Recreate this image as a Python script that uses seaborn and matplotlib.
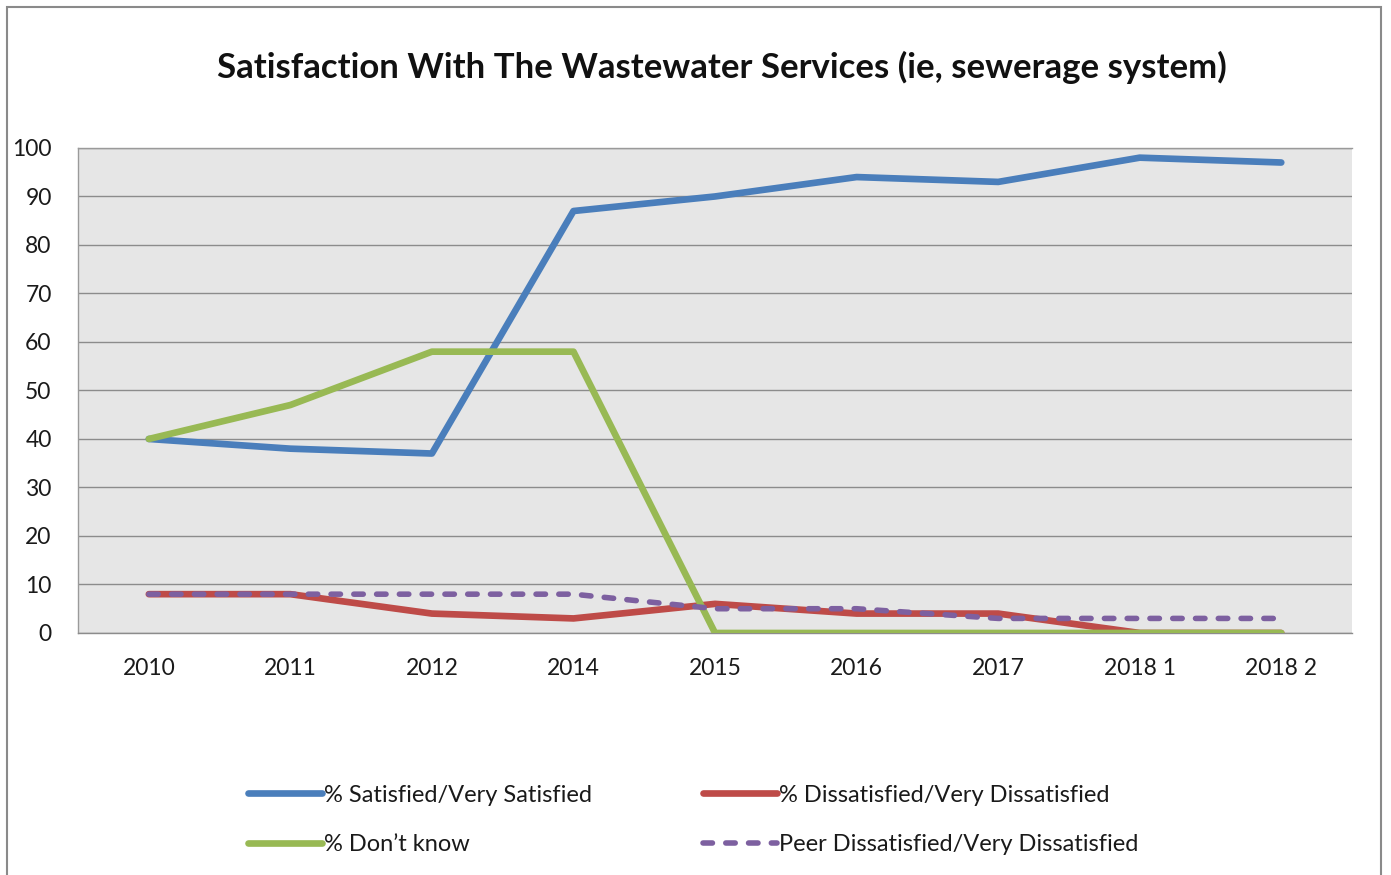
import matplotlib
matplotlib.use("Agg")
import matplotlib.pyplot as plt
from matplotlib.patches import Rectangle
import seaborn as sns
import pandas as pd

# Survey waves and series values (%)
periods = ["2010", "2011", "2012", "2014", "2015", "2016", "2017", "2018 1", "2018 2"]
satisfied = [40, 38, 37, 87, 90, 94, 93, 98, 97]
dissatisfied = [8, 8, 4, 3, 6, 4, 4, 0, 0]
dont_know = [40, 47, 58, 58, 0, 0, 0, 0, 0]
peer_dissatisfied = [8, 8, 8, 8, 5, 5, 3, 3, 3]

series_names = [
    "% Satisfied/Very Satisfied",
    "% Dissatisfied/Very Dissatisfied",
    "% Don\u2019t know",
    "Peer Dissatisfied/Very Dissatisfied",
]
colors = ["#4A7EBB", "#BE4B48", "#98B954", "#7D60A0"]

sns.set_theme(style="white")
plt.rcParams["font.family"] = ["Lato", "DejaVu Sans"]

fig = plt.figure(figsize=(13.91, 8.75), dpi=100)
ax = fig.add_axes([0.0561, 0.2766, 0.9159, 0.5543])

pos = list(range(len(periods)))
values = [satisfied, dissatisfied, dont_know, peer_dissatisfied]
handles = {}
for i, (name, vals, col) in enumerate(zip(series_names, values, colors)):
    df = pd.DataFrame({"x": pos, "y": vals})
    if i == 3:
        sns.lineplot(data=df, x="x", y="y", ax=ax, color=col, linewidth=4.0,
                     zorder=3 + i)
        line = ax.lines[-1]
        line.set_dashes((1.7, 2.4))
        line.set_dash_capstyle("round")
    else:
        sns.lineplot(data=df, x="x", y="y", ax=ax, color=col, linewidth=4.8,
                     zorder=3 + i)
        line = ax.lines[-1]
        line.set_solid_capstyle("round")
        line.set_solid_joinstyle("round")
    handles[name] = line

ax.set_facecolor("#E6E6E6")
ax.set_xlim(-0.5, len(periods) - 0.5)
ax.set_ylim(0, 100)
ax.set_yticks(range(0, 101, 10))
ax.set_xticks(pos)
ax.set_xticklabels(periods)
ax.set_xlabel("")
ax.set_ylabel("")
ax.yaxis.grid(True, color="#8C8C8C", linewidth=1.0)
ax.set_axisbelow(True)
ax.tick_params(axis="y", length=0, pad=19, labelsize=16.5, labelcolor="#1A1A1A")
ax.tick_params(axis="x", length=0, pad=18, labelsize=16.5, labelcolor="#1A1A1A")
for side in ["left", "right", "top", "bottom"]:
    ax.spines[side].set_color("#9A9A9A")
    ax.spines[side].set_linewidth(1.0)
ax.spines["right"].set_visible(False)
ax.spines["bottom"].set_color("#8C8C8C")

fig.suptitle("Satisfaction With The Wastewater Services (ie, sewerage system)",
             x=0.519, y=0.942, fontsize=25, fontweight="bold", color="#111111")

# Outer chart border
fig.patches.append(Rectangle((0.005, -0.01), 0.988, 1.002, transform=fig.transFigure,
                             fill=False, edgecolor="#8A8A8A", linewidth=1.5))

order = [series_names[0], series_names[2], series_names[1], series_names[3]]
leg = fig.legend([handles[n] for n in order], order, ncol=2,
                 loc="center", bbox_to_anchor=(0.4986, 0.063),
                 frameon=False, fontsize=17, handlelength=3.1,
                 handletextpad=0.12, columnspacing=4.7, labelspacing=1.2,
                 labelcolor="#1A1A1A")

fig.savefig("out.png", dpi=100, facecolor="white")
